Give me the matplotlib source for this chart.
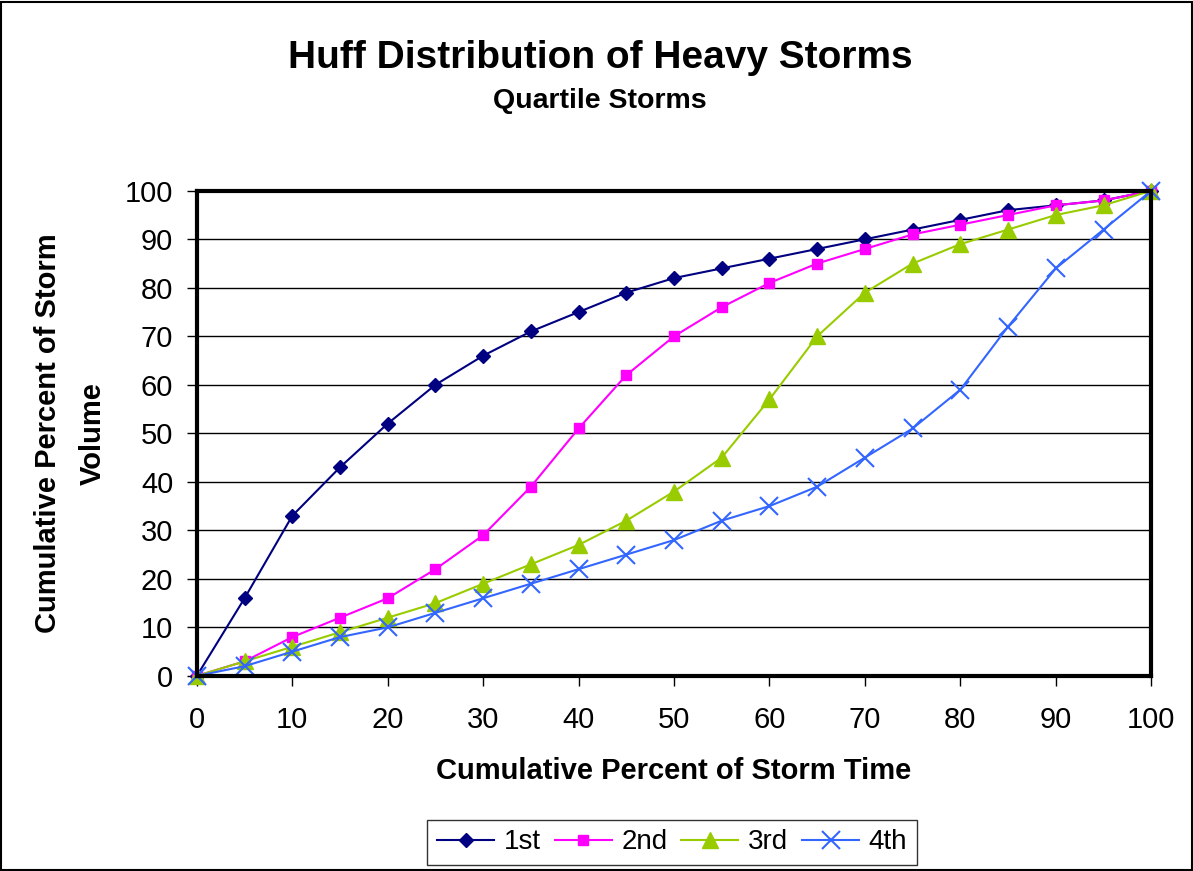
import matplotlib.pyplot as plt
import numpy as np

plt.rcParams['font.family'] = ['Liberation Sans', 'DejaVu Sans']

time_pct = [0, 5, 10, 15, 20, 25, 30, 35, 40, 45, 50, 55, 60, 65, 70, 75, 80, 85, 90, 95, 100]
q1 = [0, 16, 33, 43, 52, 60, 66, 71, 75, 79, 82, 84, 86, 88, 90, 92, 94, 96, 97, 98, 100]
q2 = [0, 3, 8, 12, 16, 22, 29, 39, 51, 62, 70, 76, 81, 85, 88, 91, 93, 95, 97, 98, 100]
q3 = [0, 3, 6, 9, 12, 15, 19, 23, 27, 32, 38, 45, 57, 70, 79, 85, 89, 92, 95, 97, 100]
q4 = [0, 2, 5, 8, 10, 13, 16, 19, 22, 25, 28, 32, 35, 39, 45, 51, 59, 72, 84, 92, 100]
labels = ['1st', '2nd', '3rd', '4th']

fig = plt.figure(figsize=(11.93, 8.71), dpi=100)
ax = fig.add_axes([0.165, 0.224, 0.8, 0.557])

ax.plot(time_pct, q1, color='#000080', marker='D', markersize=7.5, lw=1.5, label=labels[0])
ax.plot(time_pct, q2, color='#FF00FF', marker='s', markersize=7.5, lw=1.5, label=labels[1])
ax.plot(time_pct, q3, color='#99CC00', marker='^', markersize=11, lw=1.5, label=labels[2])
ax.plot(time_pct, q4, color='#3366FF', marker='x', markersize=13, mew=1.5, lw=1.5, label=labels[3])

ax.set_xlim(0, 100)
ax.set_ylim(0, 100)
ax.set_xticks(np.arange(0, 101, 10))
ax.set_yticks(np.arange(0, 101, 10))
ax.yaxis.grid(True, color='black', lw=1)
ax.set_axisbelow(True)
for s in ax.spines.values():
    s.set_linewidth(3)
ax.tick_params(labelsize=21, direction='out', length=7, width=1)
ax.tick_params(axis='x', pad=15)
ax.tick_params(axis='y', pad=10)
for line in ax.lines:
    line.set_clip_on(False)

ax.set_xlabel('Cumulative Percent of Storm Time', fontsize=21, fontweight='bold', labelpad=16)
ax.set_ylabel('Cumulative Percent of Storm\nVolume', fontsize=21, fontweight='bold',
              labelpad=13, linespacing=1.75)

fig.text(0.503, 0.933, 'Huff Distribution of Heavy Storms', ha='center', va='center',
         fontsize=28, fontweight='bold')
fig.text(0.503, 0.884, 'Quartile Storms', ha='center', va='center',
         fontsize=20.5, fontweight='bold')

leg = fig.legend(loc='lower center', bbox_to_anchor=(0.5635, -0.009), ncol=4, fontsize=20,
                 frameon=True, fancybox=False, edgecolor='black', handlelength=2.05,
                 columnspacing=0.5, handletextpad=0.35, borderpad=0.35)
leg.get_frame().set_linewidth(1)

fig.patches.append(plt.Rectangle((0.001, 0.001), 0.998, 0.997, transform=fig.transFigure,
                                 fill=False, edgecolor='black', lw=1.5))

fig.savefig('out.png', dpi=100)
